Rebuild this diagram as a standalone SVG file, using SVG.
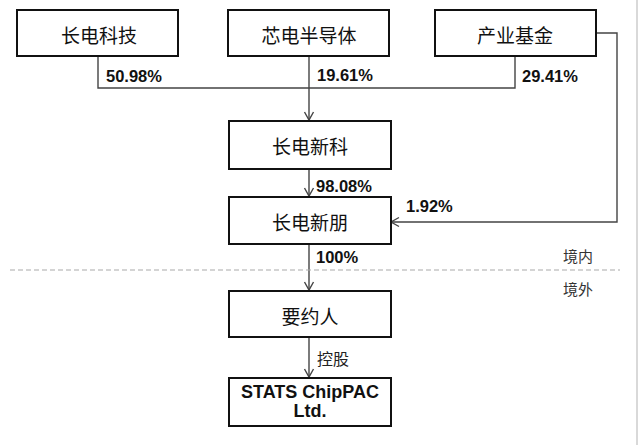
<svg xmlns="http://www.w3.org/2000/svg" width="640" height="445" viewBox="0 0 640 445">
<defs>
<style>
.box{fill:#fff;stroke:#111;stroke-width:2}
.cn{font-family:"Noto Sans CJK SC","Noto Sans",sans-serif;font-size:19px;fill:#111;text-anchor:middle;dominant-baseline:central}
.pct{font-family:"Liberation Sans",Arial,sans-serif;font-weight:bold;font-size:16.5px;fill:#111;dominant-baseline:central}
.en{font-family:"Liberation Sans",Arial,sans-serif;font-weight:bold;font-size:18px;fill:#111;text-anchor:middle;dominant-baseline:central}
.side{font-family:"Noto Sans CJK SC",sans-serif;font-size:15px;fill:#333;dominant-baseline:central}
.lbl{font-family:"Noto Sans CJK SC",sans-serif;font-size:16px;fill:#222;dominant-baseline:central}
.conn{fill:none;stroke:#444;stroke-width:1.4}
</style>
<marker id="arr" markerWidth="12" markerHeight="12" refX="10" refY="6" orient="auto" markerUnits="userSpaceOnUse">
<path d="M2,1.5 L10,6 L2,10.5" fill="none" stroke="#444" stroke-width="1.4"/>
</marker>
</defs>
<rect x="0" y="0" width="640" height="445" fill="#fff"/>
<line x1="637" y1="0" x2="637" y2="445" stroke="#ccc" stroke-width="1.5"/>

<g id="connectors">
<polyline class="conn" points="98,56 98,88 515,88 515,56"/>
<line class="conn" x1="309" y1="56" x2="309" y2="120" marker-end="url(#arr)"/>
<polyline class="conn" points="596,33 617,33 617,222 391,222" marker-end="url(#arr)"/>
<line class="conn" x1="309" y1="169" x2="309" y2="196" marker-end="url(#arr)"/>
<line class="conn" x1="309" y1="244" x2="309" y2="290" marker-end="url(#arr)"/>
<line class="conn" x1="309" y1="337" x2="309" y2="377" marker-end="url(#arr)"/>
</g>

<line x1="10" y1="270" x2="620" y2="270" stroke="#aaa" stroke-width="1.2" stroke-dasharray="5,3"/>

<g id="n1"><rect class="box" x="17" y="10" width="161" height="46"/><text class="cn" x="99" y="34">长电科技</text></g>
<g id="n2"><rect class="box" x="228" y="10" width="161" height="46"/><text class="cn" x="309" y="34">芯电半导体</text></g>
<g id="n3"><rect class="box" x="435" y="10" width="161" height="46"/><text class="cn" x="515" y="34">产业基金</text></g>
<g id="n4"><rect class="box" x="229" y="121" width="162" height="48"/><text class="cn" x="310" y="145">长电新科</text></g>
<g id="n5"><rect class="box" x="229" y="197" width="162" height="47"/><text class="cn" x="310" y="221">长电新朋</text></g>
<g id="n6"><rect class="box" x="229" y="291" width="162" height="46"/><text class="cn" x="310" y="315">要约人</text></g>
<g id="n7"><rect class="box" x="229" y="378" width="162" height="48"/><text class="en" x="310" y="392">STATS ChipPAC</text><text class="en" x="310" y="411">Ltd.</text></g>

<g id="labels">
<text class="pct" x="106" y="76">50.98%</text>
<text class="pct" x="317" y="75">19.61%</text>
<text class="pct" x="522" y="76">29.41%</text>
<text class="pct" x="316" y="186">98.08%</text>
<text class="pct" x="406" y="206">1.92%</text>
<text class="pct" x="316" y="257">100%</text>
<text class="lbl" x="317" y="358">控股</text>
<text class="side" x="563" y="255">境内</text>
<text class="side" x="563" y="288">境外</text>
</g>
</svg>
